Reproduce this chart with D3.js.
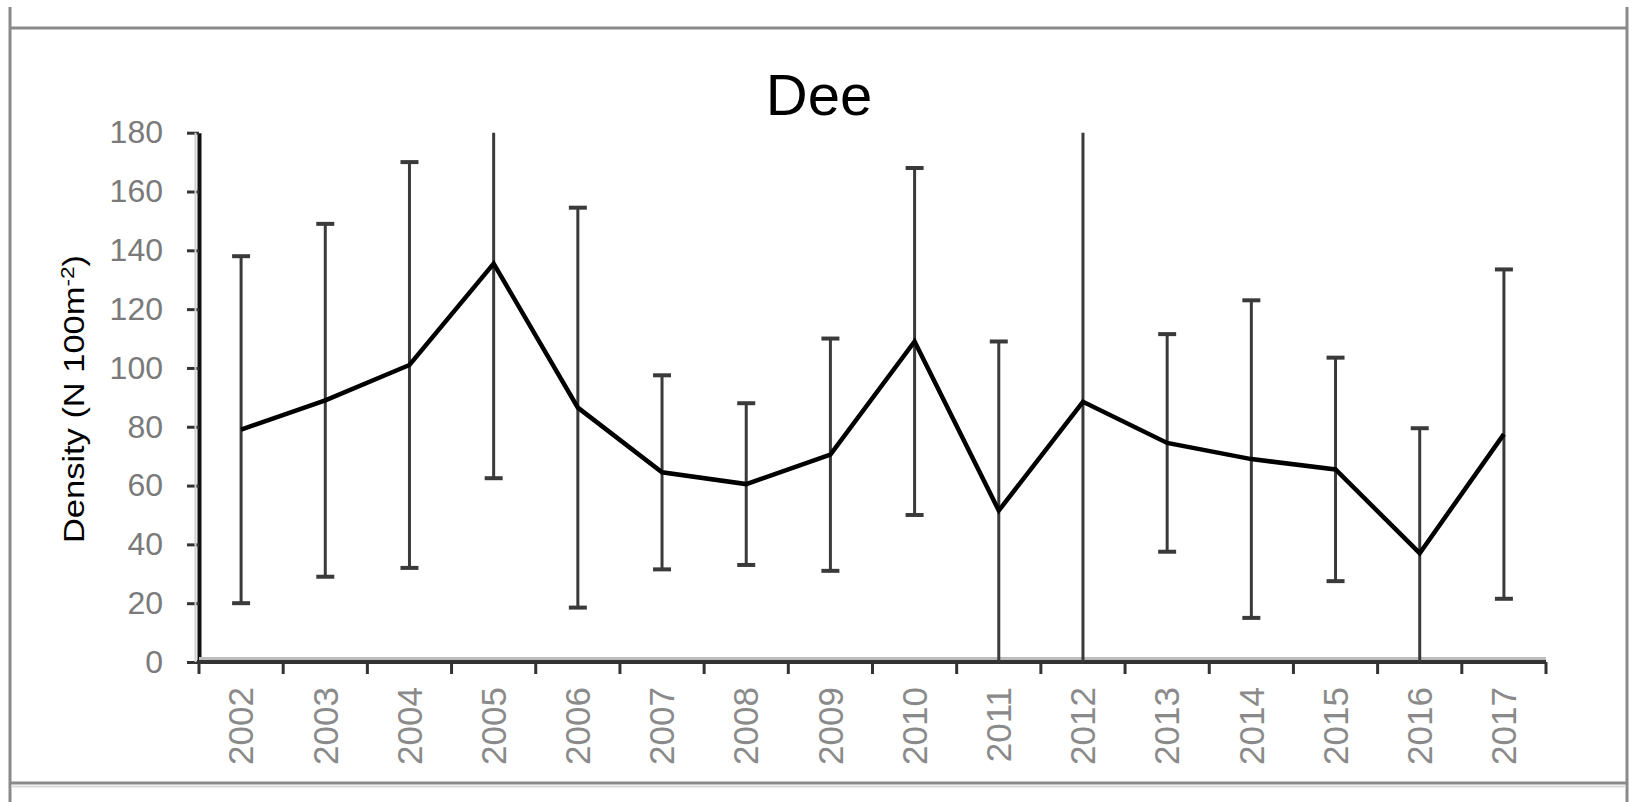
<!DOCTYPE html>
<html>
<head>
<meta charset="utf-8">
<script src="https://cdn.jsdelivr.net/npm/d3@7"></script>
<style>
  body { margin: 0; background: #fff; }
  svg { display: block; }
</style>
</head>
<body>
<svg width="1634" height="802"></svg>
<script>
// data
var years = ["2002", "2003", "2004", "2005", "2006", "2007", "2008", "2009",
             "2010", "2011", "2012", "2013", "2014", "2015", "2016", "2017"];
var density = [79, 89, 101, 135.5, 86.5, 64.5, 60.5, 70.5, 109, 51.5, 88.5, 74.5, 69, 65.5, 37, 77.5];
var stdErr = [59, 60, 69, 73, 68, 33, 27.5, 39.5, 59, 57.5, 110, 37, 54, 38, 42.5, 56];
var yTicks = [0, 20, 40, 60, 80, 100, 120, 140, 160, 180];

var svg = d3.select("svg");
// note: "top" is a reserved window property, so use plot* names
var plotLeft = 199, plotRight = 1546, plotTop = 132.7, plotBottom = 662;

var x = d3.scaleBand().domain(years).range([plotLeft, plotRight]);
var y = d3.scaleLinear().domain([0, 180]).range([plotBottom, plotTop]);

// frame around the figure
var frame = svg.append("g").attr("fill", "none").attr("stroke", "#8a8a8a").attr("stroke-width", 3);
frame.append("line").attr("x1", 10).attr("x2", 1628).attr("y1", 28).attr("y2", 28);
frame.append("line").attr("x1", 10).attr("x2", 10).attr("y1", 7).attr("y2", 802);
frame.append("line").attr("x1", 1627).attr("x2", 1627).attr("y1", 7).attr("y2", 802);
frame.append("line").attr("x1", 10).attr("x2", 1628).attr("y1", 783).attr("y2", 783);
svg.append("line").attr("x1", 11).attr("x2", 1626).attr("y1", 786.5).attr("y2", 786.5)
  .attr("stroke", "#dadada").attr("stroke-width", 2);

// title
svg.append("text")
  .attr("x", 819).attr("y", 115)
  .attr("text-anchor", "middle")
  .attr("font-family", "Liberation Sans, Arial, sans-serif")
  .attr("font-size", 58)
  .attr("fill", "#000")
  .text("Dee");

// y axis
var yAxis = svg.append("g")
  .attr("transform", "translate(" + plotLeft + ",0)")
  .call(d3.axisLeft(y).tickValues(yTicks).tickSize(12).tickPadding(24).tickSizeOuter(0));
yAxis.select(".domain").attr("stroke", "#111").attr("stroke-width", 4);
yAxis.selectAll(".tick line").attr("stroke", "#333").attr("stroke-width", 3);
yAxis.selectAll(".tick text")
  .attr("font-family", "Liberation Sans, Arial, sans-serif")
  .attr("font-size", 32)
  .attr("fill", "#7a7a7a");

svg.append("line").attr("x1", plotLeft - 3.5).attr("x2", plotLeft - 3.5).attr("y1", plotTop).attr("y2", plotBottom)
  .attr("stroke", "#d0d0d0").attr("stroke-width", 2);

// y axis title
svg.append("text")
  .attr("transform", "translate(84,399) rotate(-90)")
  .attr("text-anchor", "middle")
  .attr("font-family", "Liberation Sans, Arial, sans-serif")
  .attr("font-size", 29)
  .attr("fill", "#000")
  .attr("textLength", 288)
  .attr("lengthAdjust", "spacingAndGlyphs")
  .html('Density (N 100m<tspan dy="-10" font-size="19">-2</tspan><tspan dy="10">)</tspan>');

// x axis: line with ticks at category boundaries, labels at centres
var xAxis = svg.append("g")
  .attr("transform", "translate(0," + plotBottom + ")")
  .call(d3.axisBottom(x).tickSize(0).tickPadding(0).tickSizeOuter(0));
xAxis.select(".domain").remove();
xAxis.selectAll(".tick text")
  .attr("transform", "rotate(-90)")
  .attr("text-anchor", "end")
  .attr("x", -25)
  .attr("y", 0)
  .attr("dy", "0.35em")
  .attr("font-family", "Liberation Sans, Arial, sans-serif")
  .attr("font-size", 35)
  .attr("fill", "#8a8a8a");

svg.append("line").attr("x1", plotLeft).attr("x2", plotRight).attr("y1", plotBottom - 3.5).attr("y2", plotBottom - 3.5)
  .attr("stroke", "#bdbdbd").attr("stroke-width", 3);
svg.append("line").attr("x1", plotLeft - 2).attr("x2", plotRight).attr("y1", plotBottom).attr("y2", plotBottom)
  .attr("stroke", "#333").attr("stroke-width", 4);

var edges = years.map(function(d) { return x(d); }).concat([plotRight]);
svg.append("g").selectAll("line")
  .data(edges)
  .enter().append("line")
  .attr("x1", function(d) { return d; })
  .attr("x2", function(d) { return d; })
  .attr("y1", plotBottom)
  .attr("y2", plotBottom + 12)
  .attr("stroke", "#333")
  .attr("stroke-width", 3);

// error bars
var rows = years.map(function(d, i) { return { year: d, mean: density[i], se: stdErr[i] }; });
var cx = function(d) { return x(d.year) + x.bandwidth() / 2; };
var hi = function(d) { return d.mean + d.se; };
var lo = function(d) { return d.mean - d.se; };

var bars = svg.append("g").attr("stroke", "#3a3a3a");
bars.selectAll("line.whisker")
  .data(rows)
  .enter().append("line")
  .attr("class", "whisker")
  .attr("x1", cx).attr("x2", cx)
  .attr("y1", function(d) { return y(Math.min(180, hi(d))); })
  .attr("y2", function(d) { return y(Math.max(0, lo(d))); })
  .attr("stroke-width", 3);

bars.selectAll("line.capTop")
  .data(rows.filter(function(d) { return hi(d) <= 180; }))
  .enter().append("line")
  .attr("class", "capTop")
  .attr("x1", function(d) { return cx(d) - 9; })
  .attr("x2", function(d) { return cx(d) + 9; })
  .attr("y1", function(d) { return y(hi(d)); })
  .attr("y2", function(d) { return y(hi(d)); })
  .attr("stroke-width", 4);

bars.selectAll("line.capBottom")
  .data(rows.filter(function(d) { return lo(d) >= 0; }))
  .enter().append("line")
  .attr("class", "capBottom")
  .attr("x1", function(d) { return cx(d) - 9; })
  .attr("x2", function(d) { return cx(d) + 9; })
  .attr("y1", function(d) { return y(lo(d)); })
  .attr("y2", function(d) { return y(lo(d)); })
  .attr("stroke-width", 4);

// mean density line
var line = d3.line()
  .x(cx)
  .y(function(d) { return y(d.mean); });

svg.append("path")
  .datum(rows)
  .attr("fill", "none")
  .attr("stroke", "#000")
  .attr("stroke-width", 4.5)
  .attr("stroke-linejoin", "miter")
  .attr("d", line);
</script>
</body>
</html>
